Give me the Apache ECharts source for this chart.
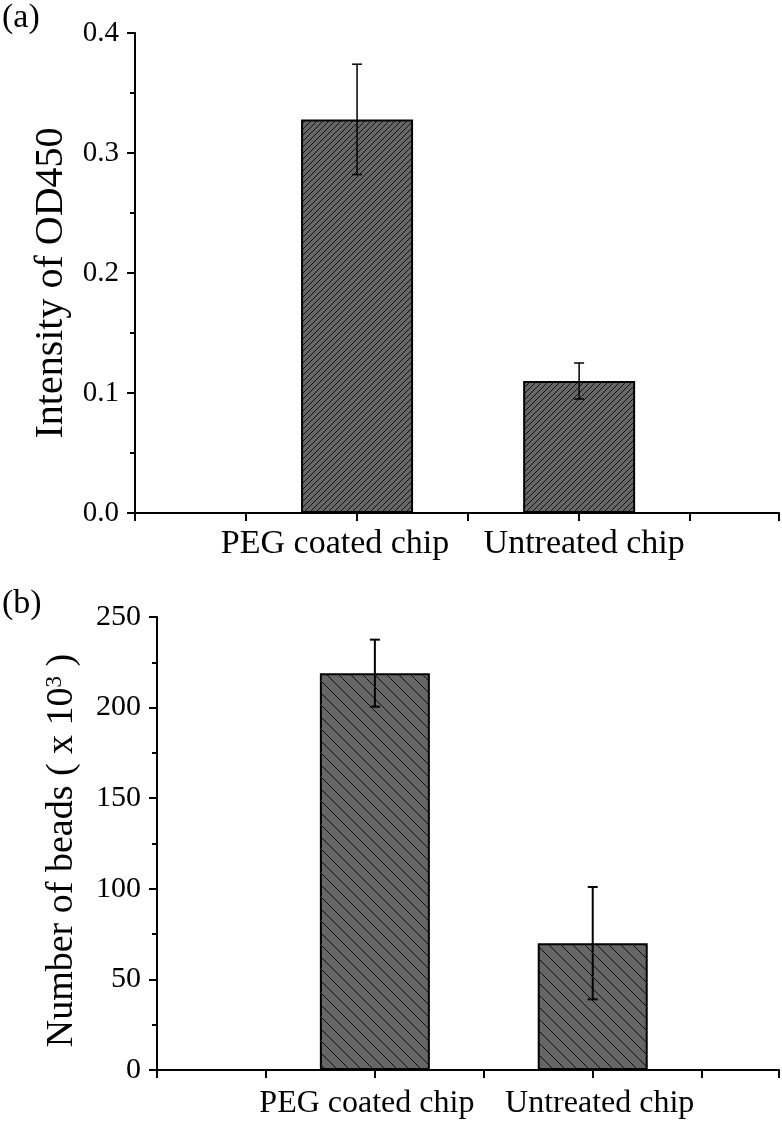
<!DOCTYPE html>
<html>
<head>
<meta charset="utf-8">
<script src="https://cdn.jsdelivr.net/npm/echarts@6/dist/echarts.min.js"></script>
<style>
  html, body { margin: 0; padding: 0; background: #fff; }
  #chart { width: 782px; height: 1124px; }
</style>
</head>
<body>
<div id="chart"></div>
<script>
// categories and the slot each one sits on along the x axis
const categories = ['PEG coated chip', 'Untreated chip'];
const catSlots = [2, 4];

// (a) OD450 intensity
const odMean = [0.328, 0.110];
const odErr = [0.046, 0.015];
const odTicks = [0, 0.4, 0.1];

// (b) number of beads (x 10^3)
const beadMean = [219, 70];
const beadErr = [18.5, 31];
const beadTicks = [0, 250, 50];

const FONT = 'Liberation Serif';

function hatch(size, dir) {
  let c = document.createElement('canvas');
  c.width = size; c.height = size;
  let ctx = c.getContext('2d');
  ctx.fillStyle = '#666666';
  ctx.fillRect(0, 0, size, size);
  ctx.strokeStyle = '#111';
  ctx.lineWidth = 1;
  for (let k = -1; k <= 1; k++) {
    ctx.beginPath();
    if (dir === '/') {
      ctx.moveTo(k * size, size);
      ctx.lineTo(k * size + size, 0);
    } else {
      ctx.moveTo(k * size, 0);
      ctx.lineTo(k * size + size, size);
    }
    ctx.stroke();
  }
  return c;
}

function catLabel(v) {
  let i = catSlots.indexOf(Math.round(v * 10) / 10);
  if (i < 0) return '';
  return '{c' + i + '|' + categories[i] + '}';
}

function errRender(capW, lw) {
  return function (params, api) {
    let x = api.value(0);
    let lo = api.coord([x, api.value(1)]);
    let hi = api.coord([x, api.value(2)]);
    let st = { stroke: '#000', lineWidth: lw };
    return {
      type: 'group',
      children: [
        { type: 'line', shape: { x1: lo[0], y1: lo[1], x2: hi[0], y2: hi[1] }, style: st },
        { type: 'line', shape: { x1: lo[0] - capW / 2, y1: lo[1], x2: lo[0] + capW / 2, y2: lo[1] }, style: st },
        { type: 'line', shape: { x1: hi[0] - capW / 2, y1: hi[1], x2: hi[0] + capW / 2, y2: hi[1] }, style: st }
      ]
    };
  };
}

function xAxisCfg(idx, max, fs, margin, rich) {
  for (let k in rich) {
    rich[k].fontFamily = FONT;
    rich[k].fontSize = fs;
    rich[k].color = '#000';
  }
  return {
    gridIndex: idx, type: 'value', min: 0, max: max, interval: 1,
    axisLine: { onZero: false, lineStyle: { color: '#000', width: 2 } },
    axisTick: { length: 8, lineStyle: { color: '#000', width: 2 } },
    splitLine: { show: false },
    axisLabel: {
      formatter: catLabel, margin: margin, color: '#000',
      fontFamily: FONT, fontSize: fs, rich: rich
    }
  };
}

function yAxisCfg(idx, t, fs, fmt, name, nameGap, nameFs, namePad, labelMargin) {
  return {
    gridIndex: idx, type: 'value', min: t[0], max: t[1], interval: t[2],
    name: name, nameLocation: 'middle', nameGap: nameGap,
    nameTextStyle: {
      color: '#000', fontFamily: FONT, fontSize: nameFs, padding: namePad,
      rich: { sup: { color: '#000', fontFamily: FONT, fontSize: 23, verticalAlign: 'top' } }
    },
    axisLine: { show: true, lineStyle: { color: '#000', width: 2 } },
    axisTick: { length: 8, lineStyle: { color: '#000', width: 2 } },
    minorTick: { show: true, splitNumber: 2, length: 5, lineStyle: { color: '#000', width: 2 } },
    splitLine: { show: false },
    axisLabel: { formatter: fmt, margin: labelMargin, color: '#000', fontFamily: FONT, fontSize: fs }
  };
}

let chart = echarts.init(document.getElementById('chart'), null, { renderer: 'canvas' });

chart.setOption({
  animation: false,
  backgroundColor: '#fff',
  textStyle: { fontFamily: FONT },
  graphic: [
    { type: 'text', left: 2, top: 1, style: { text: '(a)', fontFamily: FONT, fontSize: 34, fill: '#000' } },
    { type: 'text', left: 2, top: 587, style: { text: '(b)', fontFamily: FONT, fontSize: 34, fill: '#000' } }
  ],
  grid: [
    { left: 135, top: 33, height: 480, right: 0 },
    { left: 157, top: 617, height: 453, right: 0 }
  ],
  xAxis: [
    xAxisCfg(0, 5.8, 34, 14, { c0: { padding: [0, 44, 0, 0] }, c1: { padding: [0, 0, 0, 10] } }),
    xAxisCfg(1, 5.71, 32, 18, { c0: { padding: [0, 16, 0, 0] }, c1: { padding: [0, 0, 0, 14] } })
  ],
  yAxis: [
    yAxisCfg(0, odTicks, 29, v => v.toFixed(1), 'Intensity of OD450', 57, 40, [0, 20, 0, 0], 16),
    yAxisCfg(1, beadTicks, 30, v => String(v), 'Number of beads ( x 10{sup|3} )', 76, 38, [0, 14, 0, 0], 16)
  ],
  series: [
    {
      type: 'bar', xAxisIndex: 0, yAxisIndex: 0, barWidth: 112,
      itemStyle: { color: { image: hatch(6, '/'), repeat: 'repeat' }, borderColor: '#000', borderWidth: 2 },
      data: catSlots.map((s, i) => [s, odMean[i]])
    },
    {
      type: 'custom', xAxisIndex: 0, yAxisIndex: 0, z: 5,
      renderItem: errRender(10, 1.5), encode: { x: 0, y: [1, 2] },
      data: catSlots.map((s, i) => [s, odMean[i] - odErr[i], odMean[i] + odErr[i]])
    },
    {
      type: 'bar', xAxisIndex: 1, yAxisIndex: 1, barWidth: 110,
      itemStyle: { color: { image: hatch(12, '\\'), repeat: 'repeat' }, borderColor: '#000', borderWidth: 2 },
      data: catSlots.map((s, i) => [s, beadMean[i]])
    },
    {
      type: 'custom', xAxisIndex: 1, yAxisIndex: 1, z: 5,
      renderItem: errRender(10, 2), encode: { x: 0, y: [1, 2] },
      data: catSlots.map((s, i) => [s, beadMean[i] - beadErr[i], beadMean[i] + beadErr[i]])
    }
  ]
});
</script>
</body>
</html>
